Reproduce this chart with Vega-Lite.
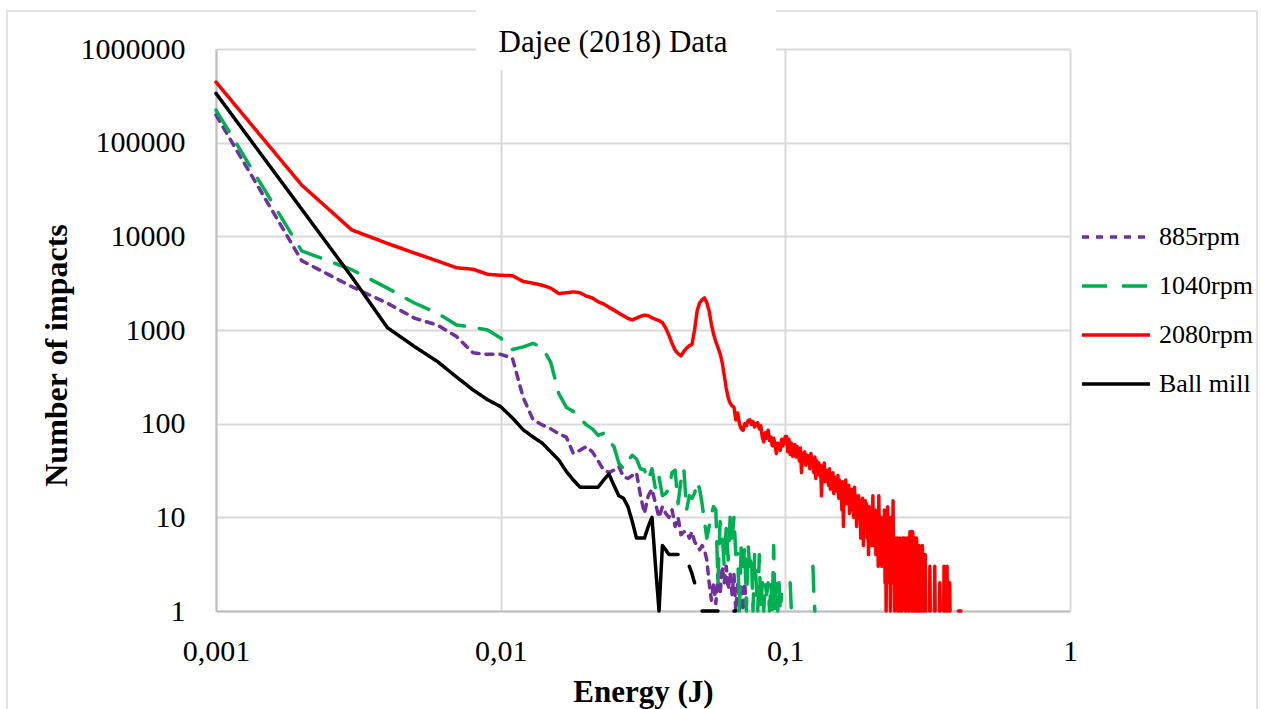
{
"$schema": "https://vega.github.io/schema/vega-lite/v6.json",
"width": 854, "height": 562,
"autosize": {"type": "none"},
"padding": {"left": 216, "top": 49, "right": 191, "bottom": 98},
"background": "white",
"config": {"view": {"stroke": null}, "font": "Liberation Serif"},
"datasets": {
"impacts": [
{"e":0.001,"885rpm":197000,"1040rpm":223000,"2080rpm":444000,"Ball mill":336000},
{"e":0.002,"885rpm":5500,"1040rpm":7000,"2080rpm":35300,"Ball mill":19500},
{"e":0.003,"885rpm":2900,"1040rpm":4400,"2080rpm":11700,"Ball mill":3680},
{"e":0.004,"885rpm":1930,"1040rpm":2800,"2080rpm":8400,"Ball mill":1060},
{"e":0.005,"885rpm":1330,"1040rpm":1930,"2080rpm":6600,"Ball mill":660},
{"e":0.006,"885rpm":1130,"1040rpm":1510,"2080rpm":5450,"Ball mill":460},
{"e":0.007,"885rpm":850,"1040rpm":1130,"2080rpm":4620,"Ball mill":315},
{"e":0.008,"885rpm":570,"1040rpm":1070,"2080rpm":4450,"Ball mill":229},
{"e":0.009,"885rpm":550,"1040rpm":1000,"2080rpm":3930,"Ball mill":180},
{"e":0.010,"885rpm":550,"1040rpm":820,"2080rpm":3840,"Ball mill":152},
{"e":0.011,"885rpm":500,"1040rpm":620,"2080rpm":3800,"Ball mill":115},
{"e":0.012,"885rpm":190,"1040rpm":660,"2080rpm":3300,"Ball mill":86},
{"e":0.013,"885rpm":110,"1040rpm":720,"2080rpm":3160,"Ball mill":72},
{"e":0.014,"885rpm":97,"1040rpm":650,"2080rpm":3000,"Ball mill":62},
{"e":0.015,"885rpm":88,"1040rpm":450,"2080rpm":2800,"Ball mill":50},
{"e":0.016,"885rpm":78,"1040rpm":210,"2080rpm":2450,"Ball mill":41},
{"e":0.017,"885rpm":72,"1040rpm":150,"2080rpm":2500,"Ball mill":31},
{"e":0.018,"885rpm":48,"1040rpm":135,"2080rpm":2550,"Ball mill":25},
{"e":0.019,"885rpm":52,"1040rpm":115,"2080rpm":2500,"Ball mill":21},
{"e":0.020,"885rpm":57,"1040rpm":97,"2080rpm":2300,"Ball mill":21},
{"e":0.021,"885rpm":50,"1040rpm":88,"2080rpm":2200,"Ball mill":21},
{"e":0.022,"885rpm":40,"1040rpm":75,"2080rpm":2000,"Ball mill":21},
{"e":0.023,"885rpm":32,"1040rpm":79,"2080rpm":1900,"Ball mill":25},
{"e":0.024,"885rpm":30,"1040rpm":65,"2080rpm":1750,"Ball mill":29},
{"e":0.025,"885rpm":32,"1040rpm":57,"2080rpm":1630,"Ball mill":22},
{"e":0.026,"885rpm":35,"1040rpm":38,"2080rpm":1520,"Ball mill":17},
{"e":0.027,"885rpm":27,"1040rpm":33,"2080rpm":1420,"Ball mill":16},
{"e":0.028,"885rpm":26,"1040rpm":40,"2080rpm":1330,"Ball mill":13},
{"e":0.029,"885rpm":28,"1040rpm":46,"2080rpm":1280,"Ball mill":9},
{"e":0.030,"885rpm":30,"1040rpm":42,"2080rpm":1340,"Ball mill":6},
{"e":0.031,"885rpm":17,"1040rpm":33,"2080rpm":1400,"Ball mill":6},
{"e":0.032,"885rpm":11,"1040rpm":32,"2080rpm":1440,"Ball mill":6},
{"e":0.033,"885rpm":17,"1040rpm":25,"2080rpm":1420,"Ball mill":8},
{"e":0.034,"885rpm":20,"1040rpm":33,"2080rpm":1350,"Ball mill":10},
{"e":0.035,"885rpm":14,"1040rpm":20,"2080rpm":1300,"Ball mill":3},
{"e":0.036,"885rpm":10,"1040rpm":27,"2080rpm":1260,"Ball mill":1},
{"e":0.037,"885rpm":13,"1040rpm":17,"2080rpm":1200,"Ball mill":5},
{"e":0.038,"885rpm":11,"1040rpm":18,"2080rpm":1050,"Ball mill":4.5},
{"e":0.039,"885rpm":10,"1040rpm":20,"2080rpm":880,"Ball mill":4},
{"e":0.040,"885rpm":12,"1040rpm":30,"2080rpm":720,"Ball mill":4},
{"e":0.041,"885rpm":8,"1040rpm":32,"2080rpm":610,"Ball mill":4},
{"e":0.042,"885rpm":10,"1040rpm":14,"2080rpm":560,"Ball mill":4},
{"e":0.043,"885rpm":6.5,"1040rpm":25,"2080rpm":530,"Ball mill":null},
{"e":0.044,"885rpm":7,"1040rpm":33,"2080rpm":590,"Ball mill":null},
{"e":0.045,"885rpm":7,"1040rpm":12,"2080rpm":640,"Ball mill":null},
{"e":0.046,"885rpm":6,"1040rpm":17,"2080rpm":680,"Ball mill":3},
{"e":0.047,"885rpm":7,"1040rpm":16,"2080rpm":700,"Ball mill":2.5},
{"e":0.048,"885rpm":5.5,"1040rpm":18,"2080rpm":1000,"Ball mill":2},
{"e":0.049,"885rpm":5,"1040rpm":24,"2080rpm":1600,"Ball mill":null},
{"e":0.050,"885rpm":4.5,"1040rpm":20,"2080rpm":1950,"Ball mill":null},
{"e":0.051,"885rpm":5,"1040rpm":14,"2080rpm":2100,"Ball mill":1},
{"e":0.052,"885rpm":4.5,"1040rpm":9,"2080rpm":2200,"Ball mill":1},
{"e":0.053,"885rpm":3.5,"1040rpm":6,"2080rpm":1950,"Ball mill":1},
{"e":0.054,"885rpm":2,"1040rpm":8,"2080rpm":1600,"Ball mill":1},
{"e":0.055,"885rpm":1.3,"1040rpm":11,"2080rpm":1150,"Ball mill":1},
{"e":0.056,"885rpm":2,"1040rpm":13,"2080rpm":900,"Ball mill":1},
{"e":0.057,"885rpm":1.2,"1040rpm":12,"2080rpm":750,"Ball mill":1},
{"e":0.058,"885rpm":2.5,"1040rpm":2,"2080rpm":650,"Ball mill":1},
{"e":0.059,"885rpm":1.5,"1040rpm":9,"2080rpm":560,"Ball mill":null},
{"e":0.060,"885rpm":3,"1040rpm":6.7,"2080rpm":450,"Ball mill":null},
{"e":0.061,"885rpm":2,"1040rpm":3,"2080rpm":330,"Ball mill":null},
{"e":0.062,"885rpm":3,"1040rpm":8,"2080rpm":240,"Ball mill":null},
{"e":0.063,"885rpm":1.7,"1040rpm":3.5,"2080rpm":190,"Ball mill":null},
{"e":0.064,"885rpm":2.5,"1040rpm":10,"2080rpm":165,"Ball mill":null},
{"e":0.065,"885rpm":1.5,"1040rpm":6,"2080rpm":155,"Ball mill":null},
{"e":0.066,"885rpm":2.5,"1040rpm":10,"2080rpm":150,"Ball mill":1},
{"e":0.067,"885rpm":1,"1040rpm":4,"2080rpm":110,"Ball mill":1},
{"e":0.068,"885rpm":2,"1040rpm":4.1,"2080rpm":130,"Ball mill":null},
{"e":0.069,"885rpm":1.5,"1040rpm":1,"2080rpm":100},
{"e":0.070,"885rpm":1.8,"1040rpm":5,"2080rpm":88},
{"e":0.071,"885rpm":1,"1040rpm":3,"2080rpm":85},
{"e":0.072,"885rpm":2,"1040rpm":4.9,"2080rpm":100},
{"e":0.073,"885rpm":1,"1040rpm":1,"2080rpm":95},
{"e":0.074,"885rpm":null,"1040rpm":5,"2080rpm":108},
{"e":0.075,"1040rpm":3,"2080rpm":110},
{"e":0.076,"1040rpm":4,"2080rpm":98},
{"e":0.077,"1040rpm":1,"2080rpm":105},
{"e":0.078,"1040rpm":4,"2080rpm":92},
{"e":0.079,"1040rpm":2,"2080rpm":100},
{"e":0.080,"1040rpm":1,"2080rpm":102},
{"e":0.081,"1040rpm":4,"2080rpm":88},
{"e":0.082,"1040rpm":1,"2080rpm":95},
{"e":0.083,"1040rpm":2,"2080rpm":72},
{"e":0.084,"1040rpm":1,"2080rpm":64},
{"e":0.085,"1040rpm":2,"2080rpm":80},
{"e":0.086,"1040rpm":1.5,"2080rpm":70},
{"e":0.087,"1040rpm":2,"2080rpm":85},
{"e":0.088,"885rpm":null,"1040rpm":1,"2080rpm":66},
{"e":0.089,"885rpm":1.3,"1040rpm":2,"2080rpm":72},
{"e":0.090,"885rpm":1,"1040rpm":1,"2080rpm":58},
{"e":0.091,"885rpm":null,"1040rpm":5,"2080rpm":70},
{"e":0.092,"1040rpm":1,"2080rpm":60},
{"e":0.093,"1040rpm":2,"2080rpm":48},
{"e":0.094,"1040rpm":1,"2080rpm":62},
{"e":0.095,"1040rpm":2,"2080rpm":55},
{"e":0.096,"1040rpm":1,"2080rpm":52},
{"e":0.097,"1040rpm":1.5,"2080rpm":68},
{"e":0.098,"1040rpm":null,"2080rpm":58},
{"e":0.099,"2080rpm":66},
{"e":0.100,"2080rpm":73},
{"e":0.101,"2080rpm":73},
{"e":0.102,"2080rpm":50},
{"e":0.103,"1040rpm":null,"2080rpm":68},
{"e":0.104,"1040rpm":2,"2080rpm":47},
{"e":0.105,"1040rpm":1,"2080rpm":62},
{"e":0.106,"1040rpm":null,"2080rpm":45},
{"e":0.107,"2080rpm":55},
{"e":0.108,"2080rpm":60},
{"e":0.109,"2080rpm":44},
{"e":0.110,"2080rpm":57},
{"e":0.111,"2080rpm":52},
{"e":0.112,"2080rpm":40},
{"e":0.113,"2080rpm":55},
{"e":0.114,"2080rpm":30},
{"e":0.115,"2080rpm":48},
{"e":0.116,"2080rpm":42},
{"e":0.117,"2080rpm":50},
{"e":0.118,"2080rpm":36},
{"e":0.119,"2080rpm":46},
{"e":0.120,"2080rpm":40},
{"e":0.121,"2080rpm":45},
{"e":0.122,"2080rpm":33},
{"e":0.123,"2080rpm":48},
{"e":0.124,"1040rpm":null,"2080rpm":38},
{"e":0.125,"1040rpm":3,"2080rpm":42},
{"e":0.126,"1040rpm":1.5,"2080rpm":30},
{"e":0.127,"1040rpm":1,"2080rpm":44},
{"e":0.128,"1040rpm":null,"2080rpm":26},
{"e":0.129,"2080rpm":40},
{"e":0.130,"2080rpm":35},
{"e":0.131,"2080rpm":38},{"e":0.132,"2080rpm":28},{"e":0.133,"2080rpm":36},{"e":0.134,"2080rpm":17},{"e":0.135,"2080rpm":34},
{"e":0.136,"2080rpm":30},{"e":0.137,"2080rpm":38},{"e":0.138,"2080rpm":24},{"e":0.139,"2080rpm":32},{"e":0.140,"2080rpm":28},
{"e":0.141,"2080rpm":30},{"e":0.142,"2080rpm":22},{"e":0.143,"2080rpm":33},{"e":0.144,"2080rpm":20},{"e":0.145,"2080rpm":28},
{"e":0.146,"2080rpm":25},{"e":0.147,"2080rpm":30},{"e":0.148,"2080rpm":18},{"e":0.149,"2080rpm":27},{"e":0.150,"2080rpm":22},
{"e":0.151,"2080rpm":26},{"e":0.152,"2080rpm":19},{"e":0.153,"2080rpm":28},{"e":0.154,"2080rpm":16},{"e":0.155,"2080rpm":25},
{"e":0.156,"2080rpm":20},{"e":0.157,"2080rpm":23},{"e":0.158,"2080rpm":12},{"e":0.159,"2080rpm":24},{"e":0.160,"2080rpm":8},
{"e":0.161,"2080rpm":22},{"e":0.162,"2080rpm":16},{"e":0.163,"2080rpm":25},{"e":0.164,"2080rpm":14},{"e":0.165,"2080rpm":20},
{"e":0.166,"2080rpm":18},{"e":0.167,"2080rpm":22},{"e":0.168,"2080rpm":11},{"e":0.169,"2080rpm":19},{"e":0.170,"2080rpm":15},
{"e":0.171,"2080rpm":20},{"e":0.172,"2080rpm":12},{"e":0.173,"2080rpm":18},{"e":0.174,"2080rpm":10},{"e":0.175,"2080rpm":21},
{"e":0.176,"2080rpm":14},{"e":0.177,"2080rpm":17},{"e":0.178,"2080rpm":8},{"e":0.179,"2080rpm":16},{"e":0.180,"2080rpm":12},
{"e":0.181,"2080rpm":17},{"e":0.182,"2080rpm":10},{"e":0.183,"2080rpm":15},{"e":0.184,"2080rpm":6},{"e":0.185,"2080rpm":14},
{"e":0.186,"2080rpm":11},{"e":0.187,"2080rpm":16},{"e":0.188,"2080rpm":5},{"e":0.189,"2080rpm":13},{"e":0.190,"2080rpm":9},
{"e":0.191,"2080rpm":15},{"e":0.192,"2080rpm":8},{"e":0.193,"2080rpm":14},{"e":0.194,"2080rpm":6},{"e":0.195,"2080rpm":12},
{"e":0.196,"2080rpm":4},{"e":0.197,"2080rpm":13},{"e":0.198,"2080rpm":9},{"e":0.199,"2080rpm":11},{"e":0.200,"2080rpm":5},
{"e":0.201,"2080rpm":12},{"e":0.202,"2080rpm":7},{"e":0.203,"2080rpm":17},{"e":0.204,"2080rpm":5},{"e":0.205,"2080rpm":10},
{"e":0.206,"2080rpm":6},{"e":0.207,"2080rpm":12},{"e":0.208,"2080rpm":4},{"e":0.209,"2080rpm":9},{"e":0.210,"2080rpm":6},
{"e":0.211,"2080rpm":11},{"e":0.212,"2080rpm":3},{"e":0.213,"2080rpm":17},{"e":0.214,"2080rpm":5},{"e":0.215,"2080rpm":8},
{"e":0.216,"2080rpm":4},{"e":0.217,"2080rpm":10},{"e":0.218,"2080rpm":3},{"e":0.219,"2080rpm":9},{"e":0.220,"2080rpm":5},
{"e":0.221,"2080rpm":8},{"e":0.222,"2080rpm":3},{"e":0.223,"2080rpm":12},{"e":0.224,"2080rpm":2},{"e":0.225,"2080rpm":7},
{"e":0.226,"2080rpm":1},{"e":0.227,"2080rpm":9},{"e":0.228,"2080rpm":4},{"e":0.229,"2080rpm":13},{"e":0.230,"2080rpm":3},
{"e":0.231,"2080rpm":7},{"e":0.232,"2080rpm":2},{"e":0.233,"2080rpm":6},{"e":0.234,"2080rpm":1},{"e":0.235,"2080rpm":10},
{"e":0.236,"2080rpm":3},{"e":0.237,"2080rpm":6},{"e":0.238,"2080rpm":2},{"e":0.239,"2080rpm":15},{"e":0.240,"2080rpm":4},
{"e":0.241,"2080rpm":6},{"e":0.242,"2080rpm":1},{"e":0.243,"2080rpm":5},{"e":0.244,"2080rpm":3},{"e":0.245,"2080rpm":6},
{"e":0.246,"2080rpm":2},{"e":0.247,"2080rpm":6},{"e":0.248,"2080rpm":1},{"e":0.249,"2080rpm":5},{"e":0.250,"2080rpm":3},
{"e":0.251,"2080rpm":1},{"e":0.252,"2080rpm":6},{"e":0.253,"2080rpm":2},{"e":0.254,"2080rpm":5},{"e":0.255,"2080rpm":1},
{"e":0.256,"2080rpm":null},
{"e":0.257,"2080rpm":1},{"e":0.258,"2080rpm":6},{"e":0.259,"2080rpm":5},{"e":0.260,"2080rpm":6},{"e":0.261,"2080rpm":2},
{"e":0.262,"2080rpm":6},{"e":0.263,"2080rpm":5},{"e":0.264,"2080rpm":1},
{"e":0.265,"2080rpm":null},
{"e":0.266,"2080rpm":1},{"e":0.267,"2080rpm":6},{"e":0.268,"2080rpm":6},{"e":0.269,"2080rpm":5},{"e":0.270,"2080rpm":6},{"e":0.271,"2080rpm":1},
{"e":0.272,"2080rpm":null},
{"e":0.273,"2080rpm":1},{"e":0.274,"2080rpm":7},{"e":0.275,"2080rpm":6},{"e":0.276,"2080rpm":5},{"e":0.277,"2080rpm":6},
{"e":0.278,"2080rpm":7},{"e":0.279,"2080rpm":1},{"e":0.280,"2080rpm":7},{"e":0.281,"2080rpm":6},{"e":0.282,"2080rpm":1},
{"e":0.283,"2080rpm":null},
{"e":0.284,"2080rpm":1},{"e":0.285,"2080rpm":6},{"e":0.286,"2080rpm":5},{"e":0.287,"2080rpm":6},{"e":0.288,"2080rpm":1},
{"e":0.289,"2080rpm":6},{"e":0.290,"2080rpm":4},{"e":0.291,"2080rpm":1},
{"e":0.292,"2080rpm":null},
{"e":0.294,"2080rpm":1},{"e":0.295,"2080rpm":5},{"e":0.296,"2080rpm":1},
{"e":0.297,"2080rpm":null},
{"e":0.302,"2080rpm":1},{"e":0.303,"2080rpm":5},{"e":0.304,"2080rpm":1},
{"e":0.305,"2080rpm":null},
{"e":0.309,"2080rpm":1},{"e":0.310,"2080rpm":4},{"e":0.311,"2080rpm":1},
{"e":0.312,"2080rpm":null},
{"e":0.321,"2080rpm":1},{"e":0.322,"2080rpm":3},{"e":0.323,"2080rpm":1},
{"e":0.324,"2080rpm":null},
{"e":0.334,"2080rpm":1},{"e":0.335,"2080rpm":3},{"e":0.336,"2080rpm":1},
{"e":0.337,"2080rpm":null},
{"e":0.348,"2080rpm":1},{"e":0.349,"2080rpm":2},{"e":0.350,"2080rpm":1},
{"e":0.351,"2080rpm":null},
{"e":0.360,"2080rpm":1},{"e":0.361,"2080rpm":3},{"e":0.362,"2080rpm":1},
{"e":0.363,"2080rpm":null},
{"e":0.369,"2080rpm":1},{"e":0.370,"2080rpm":3},{"e":0.371,"2080rpm":1},
{"e":0.372,"2080rpm":null},
{"e":0.377,"2080rpm":1},{"e":0.378,"2080rpm":2},{"e":0.379,"2080rpm":1},
{"e":0.380,"2080rpm":null},
{"e":0.405,"2080rpm":1},{"e":0.408,"2080rpm":1},{"e":0.411,"2080rpm":1},{"e":0.414,"2080rpm":1}
]
},
"layer": [
{
"data": {"values": [{}]},
"mark": {"type": "rect", "fill": null, "stroke": "#d9d9d9", "strokeWidth": 1.5},
"encoding": {
"x": {"datum": 0.0001844, "type": "quantitative", "scale": {"type": "log", "domain": [0.001, 1], "nice": false}},
"x2": {"datum": 4.54},
"y": {"datum": 2540000, "type": "quantitative", "scale": {"type": "log", "domain": [1, 1000000], "nice": false}},
"y2": {"datum": 0.0686}
}
},
{
"data": {"name": "impacts"},
"transform": [{"fold": ["885rpm", "1040rpm", "2080rpm", "Ball mill"], "as": ["series", "n"]}],
"mark": {"type": "line", "strokeWidth": 3.5, "strokeCap": "round", "strokeJoin": "round", "invalid": "break-paths-filter-domains"},
"encoding": {
"x": {"field": "e", "type": "quantitative",
"scale": {"type": "log", "domain": [0.001, 1], "nice": false},
"axis": {"values": [0.001, 0.01, 0.1, 1], "labelExpr": "replace(toString(datum.value), '.', ',')",
"title": "Energy (J)", "titleFont": "Liberation Serif", "titleFontSize": 31, "titleFontWeight": "bold", "titleColor": "#000000", "titlePadding": 11,
"labelFont": "Liberation Serif", "labelFontSize": 30, "labelColor": "#000000", "labelPadding": 25, "labelFlush": false,
"ticks": false, "tickSize": 0, "grid": true, "gridColor": "#d9d9d9", "gridWidth": 2,
"domainColor": "#bfbfbf", "domainWidth": 2}},
"y": {"field": "n", "type": "quantitative",
"scale": {"type": "log", "domain": [1, 1000000], "nice": false},
"axis": {"values": [1, 10, 100, 1000, 10000, 100000, 1000000], "format": "d",
"title": "Number of impacts", "titleFont": "Liberation Serif", "titleFontSize": 32, "titleFontWeight": "bold", "titleColor": "#000000", "titlePadding": 7, "titleY": 306,
"labelFont": "Liberation Serif", "labelFontSize": 30, "labelColor": "#000000", "labelPadding": 31, "labelFlush": false,
"ticks": false, "tickSize": 0, "grid": true, "gridColor": "#d9d9d9", "gridWidth": 2,
"domainColor": "#bfbfbf", "domainWidth": 2}},
"color": {"field": "series", "type": "nominal",
"scale": {"domain": ["885rpm", "1040rpm", "2080rpm", "Ball mill"], "range": ["#7030A0", "#00B050", "#FF0000", "#000000"]},
"legend": {"orient": "none", "legendX": 864, "legendY": 152, "title": null, "padding": 0,
"symbolType": "stroke", "symbolSize": 4624, "symbolStrokeWidth": 3.5,
"labelFont": "Liberation Serif", "labelFontSize": 26, "labelColor": "#000000", "labelOffset": 7, "rowPadding": -2}},
"strokeDash": {"field": "series", "type": "nominal",
"scale": {"domain": ["885rpm", "1040rpm", "2080rpm", "Ball mill"], "range": [[7, 7], [25, 15], [1, 0], [1, 0]]},
"legend": {"orient": "none", "legendX": 864, "legendY": 152, "title": null, "padding": 0,
"symbolType": "stroke", "symbolSize": 4624, "symbolStrokeWidth": 3.5,
"labelFont": "Liberation Serif", "labelFontSize": 26, "labelColor": "#000000", "labelOffset": 7, "rowPadding": -2}}
}
},
{
"data": {"values": [{}]},
"mark": {"type": "rect", "fill": "#ffffff", "stroke": null},
"encoding": {
"x": {"datum": 0.00819, "type": "quantitative"},
"x2": {"datum": 0.0927},
"y": {"datum": 4000000, "type": "quantitative"},
"y2": {"datum": 596500}
}
},
{
"data": {"values": [{}]},
"mark": {"type": "text", "text": "Dajee (2018) Data", "font": "Liberation Serif", "fontSize": 31, "color": "#000000", "align": "center", "baseline": "alphabetic"},
"encoding": {
"x": {"datum": 0.02481, "type": "quantitative"},
"y": {"datum": 930000, "type": "quantitative"}
}
}
]
}
